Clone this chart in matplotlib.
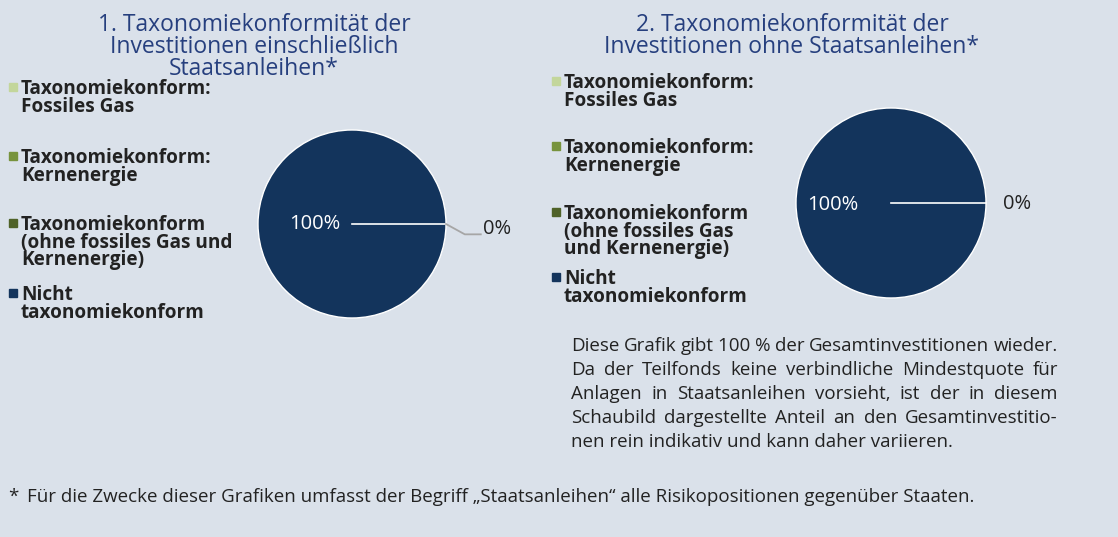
import matplotlib
matplotlib.use("Agg")
import matplotlib.pyplot as plt
from matplotlib.patches import Rectangle

W, H = 1118, 537
BG = "#dae1ea"
NAVY = "#13345c"
TITLE_C = "#263f7e"
TXT = "#222222"
FONT = "Open Sans"

# data
categories = ["Taxonomiekonform:\nFossiles Gas",
              "Taxonomiekonform:\nKernenergie",
              "Taxonomiekonform\n(ohne fossiles Gas und\nKernenergie)",
              "Nicht\ntaxonomiekonform"]
categories2 = ["Taxonomiekonform:\nFossiles Gas",
               "Taxonomiekonform:\nKernenergie",
               "Taxonomiekonform\n(ohne fossiles Gas\nund Kernenergie)",
               "Nicht\ntaxonomiekonform"]
colors = ["#c3d69b", "#77933c", "#4f6228", NAVY]
values1 = [0, 0, 0, 100]
values2 = [0, 0, 0, 100]
title1 = "1. Taxonomiekonformität der\nInvestitionen einschließlich\nStaatsanleihen*"
title2 = "2. Taxonomiekonformität der\nInvestitionen ohne Staatsanleihen*"
note_lines = ["Diese Grafik gibt 100\u00a0% der Gesamtinvestitionen wieder.",
              "Da der Teilfonds keine verbindliche Mindestquote für",
              "Anlagen in Staatsanleihen vorsieht, ist der in diesem",
              "Schaubild dargestellte Anteil an den Gesamtinvestitio-",
              "nen rein indikativ und kann daher variieren."]
footnote = "Für die Zwecke dieser Grafiken umfasst der Begriff „Staatsanleihen“ alle Risikopositionen gegenüber Staaten."

fig = plt.figure(figsize=(W / 100, H / 100), dpi=100, facecolor=BG)


def fx(x):
    return x / W


def fy(y):
    return 1 - y / H


def draw_pie(cx, cy, r, values, big_xy, zero_xy, leader):
    s = 2.6 * r
    ax = fig.add_axes([fx(cx - s / 2), fy(cy + s / 2), s / W, s / H])
    ax.set_facecolor("none")
    ax.pie(values, colors=colors, startangle=0, counterclock=True,
           radius=1, wedgeprops=dict(edgecolor="white", linewidth=1.0))
    ax.plot([0, 1], [0, 0], color="white", lw=1.2)
    ax.set_xlim(-1.3, 1.3)
    ax.set_ylim(-1.3, 1.3)
    ax.set_aspect("equal")
    ax.axis("off")
    ax.text(big_xy[0], big_xy[1], f"{values[-1]}%", color="white", fontsize=14.5,
            family=FONT, ha="center", va="center")
    ax.text(zero_xy[0], zero_xy[1], f"{values[0]}%", color=TXT, fontsize=14.5,
            family=FONT, ha="center", va="center", clip_on=False)
    if leader:
        ax.plot([1.0, 1.2, 1.37], [0, -0.11, -0.11], color="#a6a6a6", lw=1.3,
                clip_on=False)


def draw_legend(x_sq, x_txt, ys, labels):
    for y, lab, c in zip(ys, labels, colors):
        fig.patches.append(Rectangle((fx(x_sq - 4), fy(y + 4)), 8 / W, 8 / H,
                                     color=c, transform=fig.transFigure))
        fig.text(fx(x_txt), fy(y - 8), lab, family=FONT, weight="bold",
                 fontsize=13.7, color=TXT, ha="left", va="top", linespacing=0.84)


draw_pie(352, 224, 94, values1, (-0.40, 0), (1.54, -0.05), True)
draw_pie(891, 203, 95, values2, (-0.61, -0.02), (1.33, -0.01), False)

fig.text(fx(254), fy(13), title1, family=FONT, weight="normal", fontsize=16.5,
         color=TITLE_C, ha="center", va="top", linespacing=0.9)
fig.text(fx(792), fy(13), title2, family=FONT, weight="normal", fontsize=16.5,
         color=TITLE_C, ha="center", va="top", linespacing=0.9)

draw_legend(12.5, 21, [87, 156, 223, 293], categories)
draw_legend(556, 564, [81, 146, 212, 277], categories2)

# justified note block
renderer = fig.canvas.get_renderer()
x0, x1 = 571, 1058
for i, line in enumerate(note_lines):
    y = 346 + i * 24
    words = line.split(" ")
    if i == len(note_lines) - 1:
        fig.text(fx(x0), fy(y), line, family=FONT, fontsize=13.5, color=TXT,
                 ha="left", va="center")
        continue
    arts = [fig.text(0, 0, w, family=FONT, fontsize=13.5, color=TXT,
                     ha="left", va="center") for w in words]
    widths = [a.get_window_extent(renderer).width for a in arts]
    gap = (x1 - x0 - sum(widths)) / (len(words) - 1)
    x = x0
    for a, w in zip(arts, widths):
        a.set_position((fx(x), fy(y)))
        x += w + gap

fig.text(fx(8), fy(497), "*", family=FONT, fontsize=13.5, color=TXT,
         ha="left", va="center")
fig.text(fx(27), fy(497), footnote, family=FONT, fontsize=13.5, color=TXT,
         ha="left", va="center")

fig.savefig("out.png", dpi=100, facecolor=BG)
